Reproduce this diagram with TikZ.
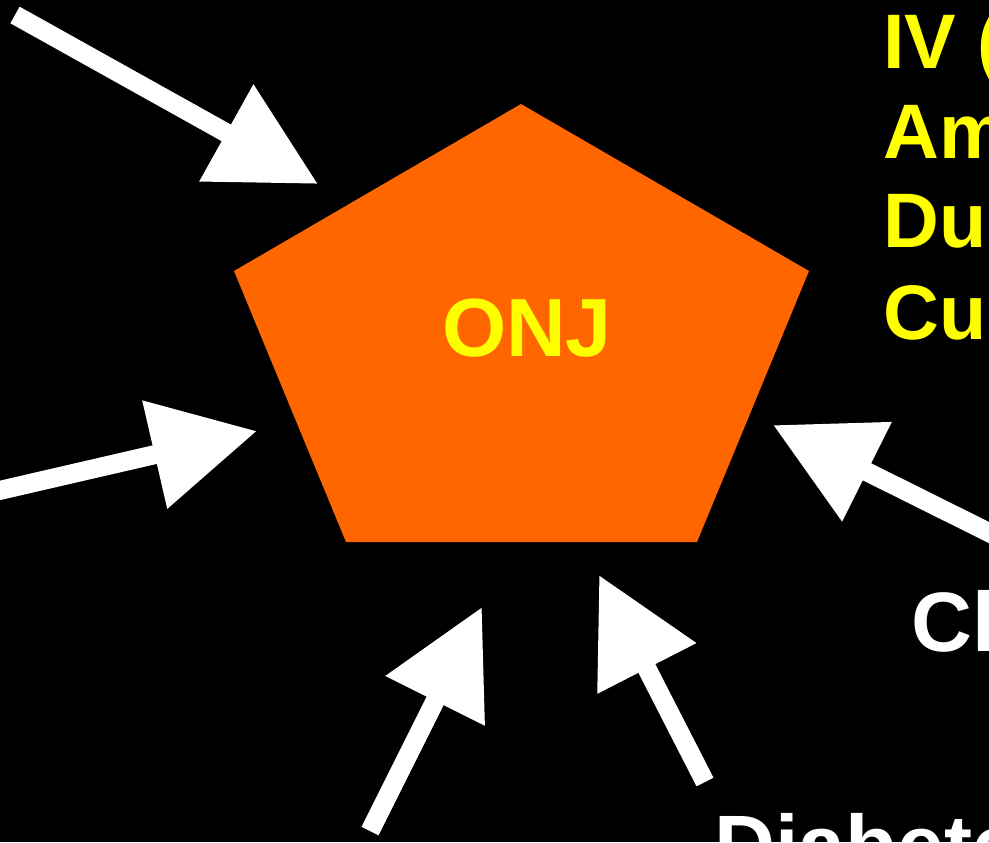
\documentclass[tikz,border=0pt]{standalone}
\usepackage{fontspec}
\setmainfont{Liberation Sans}
\usepackage{xcolor}
\usetikzlibrary{arrows.meta}
\usetikzlibrary{calc}
\definecolor{onjorange}{HTML}{FF6600}
\definecolor{onjyellow}{HTML}{FFFF00}

\begin{document}
\begin{tikzpicture}[x=0.02cm, y=-0.02cm]%%ONJ

                \tikzstyle{factor} = [white, line width=0.38cm, -{Triangle[length=2.1cm, width=2.12cm]}]
                \tikzstyle{risk}   = [anchor=base west, inner sep=0pt, text=onjyellow, font=\fontsize{44}{51}\selectfont\bfseries]
                \tikzstyle{cause}  = [anchor=base west, inner sep=0pt, text=white, font=\fontsize{48}{56}\selectfont\bfseries]

                \fill[black] (0,0) rectangle (989,842);
                \useasboundingbox (0,0) rectangle (989,842);
                \clip (0,0) rectangle (989,842);

                \fill[onjorange] (521,104) -- (809,271) -- (697,542) -- (346,542) -- (234,271) -- cycle;
                \node [text=onjyellow, font=\fontsize{47}{56}\selectfont\bfseries](onj) at (527,328) {ONJ};

                \node [risk](iv) at (883,68) {IV (};
                \node [risk](am) at (883,158) {Am};
                \node [risk](du) at (883,247) {Du};
                \node [risk](cu) at (883,339) {Cu};
                \node [cause](cl) at (911,651) {Cl};
                \node [cause](dia) at (714,874) {Diabete};

                \coordinate (s1) at (15,15);    \coordinate (t1) at (318,184);
                \coordinate (s2) at (-20,495);  \coordinate (t2) at (257,431);
                \coordinate (s3) at (370,831);  \coordinate (t3) at (482,607);
                \coordinate (s4) at (705,782);  \coordinate (t4) at (599,575);
                \coordinate (s5) at (1010,543); \coordinate (t5) at (773,425);

                \foreach \i in {1,...,5}{
                        \draw [factor] (s\i) -- (t\i);
                }
\end{tikzpicture}
\end{document}
